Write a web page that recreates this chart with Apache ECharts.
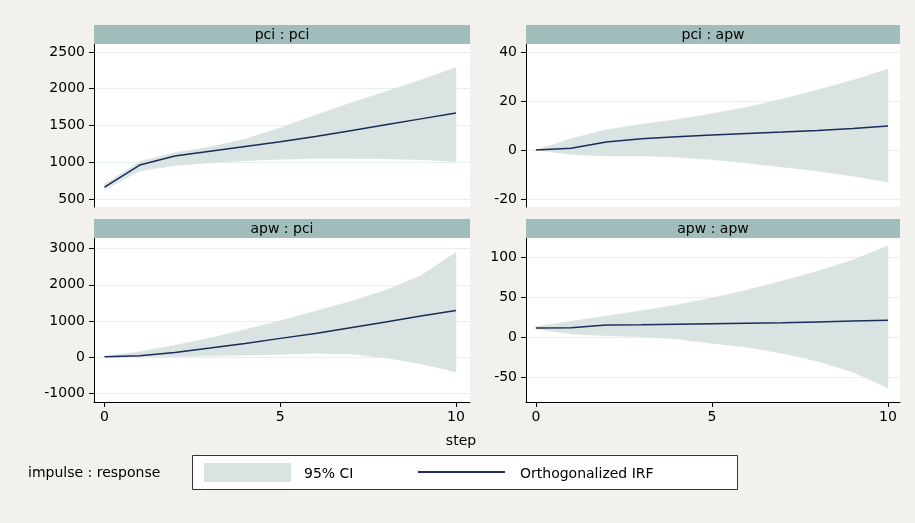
<!DOCTYPE html>
<html>
<head>
<meta charset="utf-8">
<script src="https://cdn.jsdelivr.net/npm/echarts@6/dist/echarts.min.js"></script>
<style>
html,body{margin:0;padding:0;background:#f2f1ee;}
#chart{width:915px;height:523px;}
</style>
</head>
<body>
<div id="chart"></div>
<script>
// ---- data ----
const steps = [0, 1, 2, 3, 4, 5, 6, 7, 8, 9, 10];
const xTicks = [0, 5, 10];

const panelTitles = ['pci : pci', 'pci : apw', 'apw : pci', 'apw : apw'];

const pciPciIrf = [663, 962, 1085, 1150, 1215, 1280, 1350, 1430, 1510, 1590, 1670];
const pciPciLo  = [625, 885, 953, 994, 1021, 1040, 1050, 1052, 1048, 1035, 1010];
const pciPciHi  = [700, 1010, 1130, 1207, 1316, 1466, 1640, 1806, 1960, 2118, 2290];

const pciApwIrf = [0, 0.7, 3.3, 4.6, 5.4, 6.1, 6.7, 7.3, 8.0, 8.8, 9.8];
const pciApwLo  = [0, -1.8, -2.4, -2.4, -2.9, -3.9, -5.3, -6.9, -8.6, -10.6, -13.1];
const pciApwHi  = [0, 4.6, 8.3, 10.5, 12.4, 14.8, 17.5, 20.8, 24.5, 28.5, 33];

const apwPciIrf = [10, 37, 130, 250, 380, 519, 657, 815, 972, 1139, 1290];
const apwPciLo  = [0, 10, 20, 35, 55, 80, 110, 85, -20, -180, -410];
const apwPciHi  = [20, 150, 330, 530, 760, 1010, 1270, 1540, 1850, 2250, 2900];

const apwApwIrf = [12.1, 12.3, 16, 16.2, 16.8, 17.4, 18, 18.6, 19.7, 20.8, 21.8];
const apwApwLo  = [11, 4.6, 2.5, 1.2, -1.7, -7, -12, -19.6, -29.6, -43, -63];
const apwApwHi  = [14, 20.4, 27, 33.8, 41, 49.6, 59.6, 71, 83, 97, 115];

const yTicks1 = [500, 1000, 1500, 2000, 2500];
const yTicks2 = [-20, 0, 20, 40];
const yTicks3 = [-1000, 0, 1000, 2000, 3000];
const yTicks4 = [-50, 0, 50, 100];

// ---- styling / layout ----
const FONT = 'DejaVu Sans';
const CI_COLOR = '#d9e3e1';
const LINE_COLOR = '#1b2b5a';
const HEAD_COLOR = '#a0bdbb';

const grids = [
  {left: 94,  top: 44,  width: 376, height: 163},
  {left: 526, top: 44,  width: 374, height: 163},
  {left: 94,  top: 238, width: 376, height: 164},
  {left: 526, top: 238, width: 374, height: 164}
];
const xRanges = [[-0.3, 10.4], [-0.28, 10.34], [-0.3, 10.4], [-0.28, 10.34]];
const yRanges = [[391.2, 2608.8], [-23.27, 43.27], [-1241, 3296], [-80.4, 124.6]];
const yTickSets = [yTicks1, yTicks2, yTicks3, yTicks4];
const panels = [
  [pciPciLo, pciPciHi, pciPciIrf],
  [pciApwLo, pciApwHi, pciApwIrf],
  [apwPciLo, apwPciHi, apwPciIrf],
  [apwApwLo, apwApwHi, apwApwIrf]
];

const plain = v => String(v);
const xAxes = [], yAxes = [], series = [], graphics = [];

grids.forEach((g, i) => {
  const bottomRow = i >= 2;
  xAxes.push({
    type: 'value', gridIndex: i, min: xRanges[i][0], max: xRanges[i][1],
    show: true,
    axisLine: {show: bottomRow, onZero: false, lineStyle: {color: '#000', width: 1}},
    axisTick: {show: bottomRow, length: 5, customValues: xTicks, lineStyle: {color: '#000'}},
    axisLabel: {show: bottomRow, customValues: xTicks, formatter: plain, margin: 8, color: '#000', fontFamily: FONT, fontSize: 14},
    splitLine: {show: false}
  });
  yAxes.push({
    type: 'value', gridIndex: i, min: yRanges[i][0], max: yRanges[i][1],
    axisLine: {show: true, onZero: false, lineStyle: {color: '#000', width: 1}},
    axisTick: {show: true, length: 5, customValues: yTickSets[i], lineStyle: {color: '#000'}},
    axisLabel: {customValues: yTickSets[i], formatter: plain, margin: 9, color: '#000', fontFamily: FONT, fontSize: 14},
    splitLine: {show: true, lineStyle: {color: '#e6eff0', width: 1}}
  });
  const [lo, hi, irf] = panels[i];
  // 95% CI band as one polygon through the axis scales
  series.push({
    name: '95% CI',
    type: 'custom', xAxisIndex: i, yAxisIndex: i, silent: true, z: 1,
    data: steps.map((s, k) => [s, lo[k], hi[k]]),
    encode: {x: 0, y: [1, 2]},
    renderItem: function (params, api) {
      if (params.dataIndex !== 0) return null;
      const upper = steps.map((s, k) => api.coord([s, hi[k]]));
      const lower = steps.map((s, k) => api.coord([s, lo[k]])).reverse();
      return {
        type: 'polygon',
        shape: {points: upper.concat(lower)},
        style: {fill: CI_COLOR, stroke: CI_COLOR, lineWidth: 0.5}
      };
    }
  });
  series.push({
    name: 'Orthogonalized IRF',
    type: 'line', xAxisIndex: i, yAxisIndex: i,
    data: steps.map((s, k) => [s, irf[k]]),
    symbol: 'none', lineStyle: {color: LINE_COLOR, width: 1.5}, z: 3
  });
  const hy = bottomRow ? 219 : 25;
  const hh = g.top - hy;
  graphics.push({
    type: 'rect', left: g.left, top: hy, shape: {width: g.width, height: hh},
    style: {fill: HEAD_COLOR}, z: 10
  });
  graphics.push({
    type: 'text', x: g.left + g.width / 2, y: hy + hh / 2 + 0.5,
    style: {text: panelTitles[i], fill: '#000', font: '14px "' + FONT + '"', align: 'center', verticalAlign: 'middle'}, z: 11
  });
});

// x axis title
graphics.push({
  type: 'text', x: 461, y: 441,
  style: {text: 'step', fill: '#000', font: '14px "' + FONT + '"', align: 'center', verticalAlign: 'middle'}, z: 11
});
// legend area
graphics.push({
  type: 'text', x: 28, y: 473,
  style: {text: 'impulse : response', fill: '#000', font: '14px "' + FONT + '"', align: 'left', verticalAlign: 'middle'}, z: 11
});
graphics.push({
  type: 'rect', shape: {x: 192.5, y: 455.5, width: 545, height: 34},
  style: {fill: '#fff', stroke: '#333', lineWidth: 1}, z: 10
});
graphics.push({
  type: 'rect', shape: {x: 204, y: 463, width: 87, height: 19},
  style: {fill: CI_COLOR}, z: 11
});
graphics.push({
  type: 'text', x: 304, y: 474,
  style: {text: '95% CI', fill: '#000', font: '14px "' + FONT + '"', align: 'left', verticalAlign: 'middle'}, z: 11
});
graphics.push({
  type: 'line', shape: {x1: 418, y1: 472, x2: 505, y2: 472},
  style: {stroke: LINE_COLOR, lineWidth: 2}, z: 11
});
graphics.push({
  type: 'text', x: 520, y: 474,
  style: {text: 'Orthogonalized IRF', fill: '#000', font: '14px "' + FONT + '"', align: 'left', verticalAlign: 'middle'}, z: 11
});

const chart = echarts.init(document.getElementById('chart'), null, {renderer: 'canvas'});
chart.setOption({
  animation: false,
  backgroundColor: '#f2f1ee',
  grid: grids.map(g => Object.assign({show: true, backgroundColor: '#fff', borderWidth: 0, containLabel: false, outerBoundsMode: 'none'}, g)),
  xAxis: xAxes,
  yAxis: yAxes,
  series: series,
  graphic: graphics
});
</script>
</body>
</html>
